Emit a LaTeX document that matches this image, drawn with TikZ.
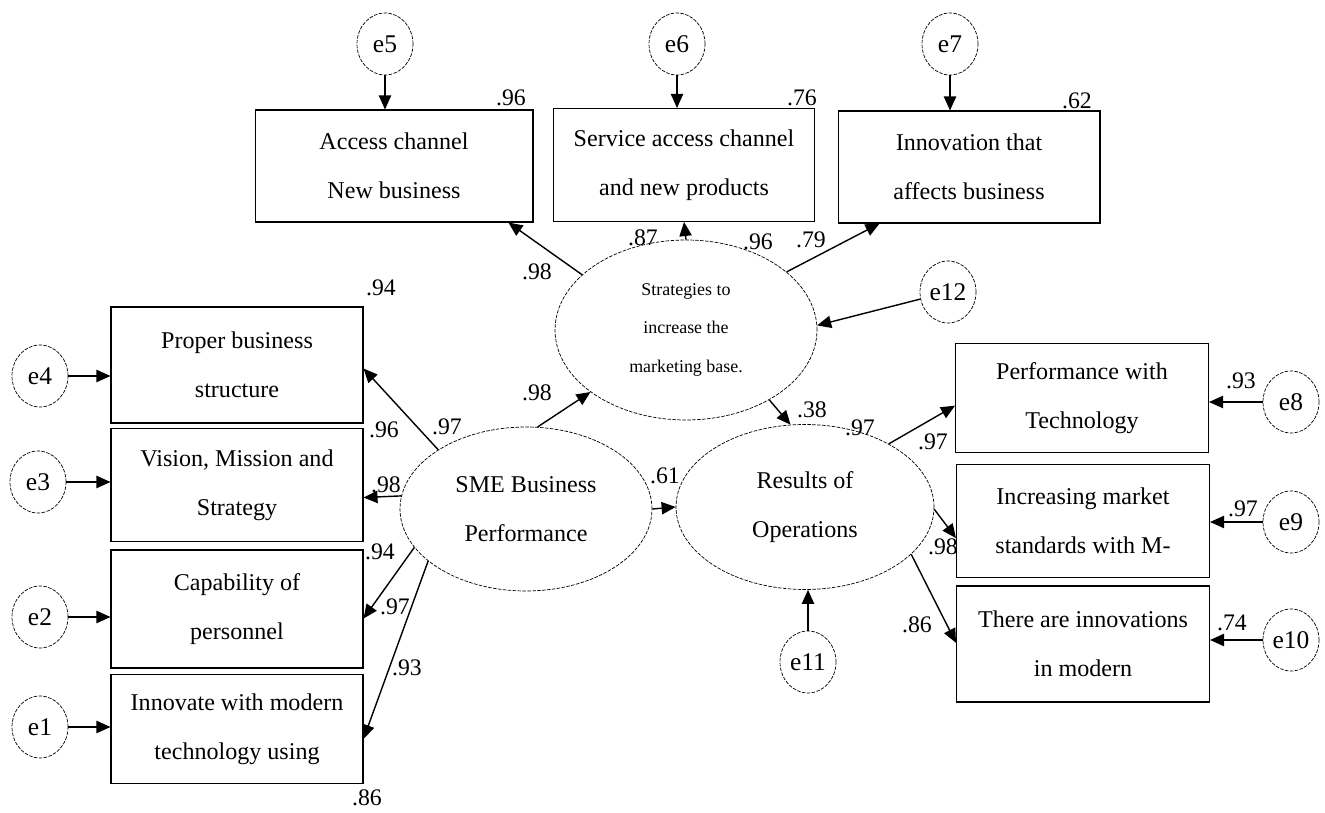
\documentclass[tikz,border=0pt]{standalone}
\usepackage{fontspec}
\setmainfont{Liberation Serif}
\usetikzlibrary{shapes.geometric,arrows.meta,calc}

\begin{document}
\begin{tikzpicture}[
x=0.02cm, y=-0.02cm,
item/.style={rectangle, draw, line width=0.6pt, minimum width=5.04cm, align=center, font=\fontsize{13.7}{28}\selectfont},
latent/.style={ellipse, draw, dash pattern=on 2pt off 0.8pt, line width=0.4pt, inner sep=0pt, align=center, font=\fontsize{13.7}{28}\selectfont},
err/.style={ellipse, draw, dash pattern=on 2pt off 0.8pt, line width=0.4pt, inner sep=0pt, minimum width=1.12cm, minimum height=1.24cm, font=\fontsize{14.5}{16}\selectfont},
coef/.style={inner sep=0pt, font=\fontsize{13.5}{14}\selectfont},
link/.style={-{Triangle[length=8pt,width=7pt]}, line width=0.8pt}
]
\useasboundingbox (0,0) rectangle (1325,813);

% latent variables
\node[latent, minimum width=5.24cm, minimum height=3.6cm, font=\fontsize{10.2}{22}\selectfont] (str) at (686,330) {Strategies to\\increase the\\marketing base.};
\node[latent, minimum width=5.04cm, minimum height=3.28cm] (sme) at (526,509) {SME Business\\Performance};
\node[latent, minimum width=5.16cm, minimum height=3.3cm] (res) at (805,507) {Results of\\Operations};

% top indicators
\node[item, minimum width=5.56cm, minimum height=2.24cm] (acc) at (394,166) {Access channel\\New business};
\node[item, minimum width=5.22cm, minimum height=2.26cm] (serv) at (684,165) {Service access channel\\and new products};
\node[item, minimum width=5.24cm, minimum height=2.24cm] (innb) at (969,167) {Innovation that\\affects business};
\node[err] (e5) at (385,44) {e5};
\node[err] (e6) at (677,44) {e6};
\node[err] (e7) at (950,44) {e7};
\node[err] (e12) at (948,292) {e12};

% left indicators
\node[item, minimum height=2.32cm] (prop) at (237,365) {Proper business\\structure};
\node[item, minimum height=2.26cm] (vis) at (237,485) {Vision, Mission and\\Strategy};
\node[item, minimum height=2.36cm] (cap) at (237,609) {Capability of\\personnel};
\node[item, minimum height=2.18cm] (tech) at (237,729) {Innovate with modern\\technology using};
\node[err] (e4) at (40,376) {e4};
\node[err] (e3) at (38,482) {e3};
\node[err] (e2) at (40,617) {e2};
\node[err] (e1) at (40,727) {e1};

% right indicators
\node[item, minimum width=5.06cm, minimum height=2.18cm] (perf) at (1082,398) {Performance with\\Technology};
\node[item, minimum width=5.06cm, minimum height=2.26cm] (mkt) at (1083,521) {Increasing market\\standards with M-};
\node[item, minimum width=5.06cm, minimum height=2.32cm] (mod) at (1083,644) {There are innovations\\in modern};
\node[err] (e8) at (1291,402) {e8};
\node[err] (e9) at (1291,522) {e9};
\node[err] (e10) at (1291,640) {e10};
\node[err] (e11) at (808,662) {e11};

% error terms
\draw[link] (e5) -- (e5 |- acc.north);
\draw[link] (e6) -- (e6 |- serv.north);
\draw[link] (e7) -- (e7 |- innb.north);
\draw[link] (e12) -- (str.2);
\draw[link] (e4) -- (e4 -| prop.west);
\draw[link] (e3) -- (e3 -| vis.west);
\draw[link] (e2) -- (e2 -| cap.west);
\draw[link] (e1) -- (e1 -| tech.west);
\draw[link] (e8) -- (e8 -| perf.east);
\draw[link] (e9) -- (e9 -| mkt.east);
\draw[link] (e10) -- (e10 -| mod.east);
\draw[link] (e11) -- (e11 |- res.south);

% paths
\draw[link] (str.152) -- ($(acc.south west)!0.91!(acc.south east)$);
\draw[link] (str.north) -- (serv.south);
\draw[link] (str.30) -- ($(innb.south west)!0.16!(innb.south east)$);
\draw[link] (sme.82) -- (str.213);
\draw[link] (str.-40) -- (res.100);
\draw[link] (sme.east) -- (res.west);
\draw[link] (sme.146) -- ($(prop.north east)!0.53!(prop.south east)$);
\draw[link] (sme.174) -- ($(vis.north east)!0.61!(vis.south east)$);
\draw[link] (sme.199) -- ($(cap.north east)!0.58!(cap.south east)$);
\draw[link] (sme.208) -- ($(tech.north east)!0.59!(tech.south east)$);
\draw[link] (res.37) -- ($(perf.north west)!0.57!(perf.south west)$);
\draw[link] (res.-1) -- ($(mkt.north west)!0.65!(mkt.south west)$);
\draw[link] (res.-24) -- ($(mod.north west)!0.49!(mod.south west)$);

% estimates
\node[coef] (r2acc) at (511,98) {.96};
\node[coef] (r2serv) at (802,98) {.76};
\node[coef] (r2innb) at (1077,101) {.62};
\node[coef] (l1) at (643,238) {.87};
\node[coef] (r2str) at (758,242) {.96};
\node[coef] (l2) at (811,240) {.79};
\node[coef] (l3) at (537,272) {.98};
\node[coef] (g1) at (537,393) {.98};
\node[coef] (g2) at (812,410) {.38};
\node[coef] (r2res) at (860,428) {.97};
\node[coef] (l4) at (933,442) {.97};
\node[coef] (l5) at (943,547) {.98};
\node[coef] (l6) at (917,625) {.86};
\node[coef] (r2perf) at (1241,381) {.93};
\node[coef] (r2mkt) at (1243,509) {.97};
\node[coef] (r2mod) at (1232,623) {.74};
\node[coef] (g3) at (665,476) {.61};
\node[coef] (r2prop) at (381,288) {.94};
\node[coef] (r2vis) at (384,430) {.96};
\node[coef] (l7) at (447,427) {.97};
\node[coef] (l8) at (386,485) {.98};
\node[coef] (r2cap) at (380,552) {.94};
\node[coef] (l9) at (395,607) {.97};
\node[coef] (l10) at (407,668) {.93};
\node[coef] (r2tech) at (367,798) {.86};
\end{tikzpicture}
\end{document}
